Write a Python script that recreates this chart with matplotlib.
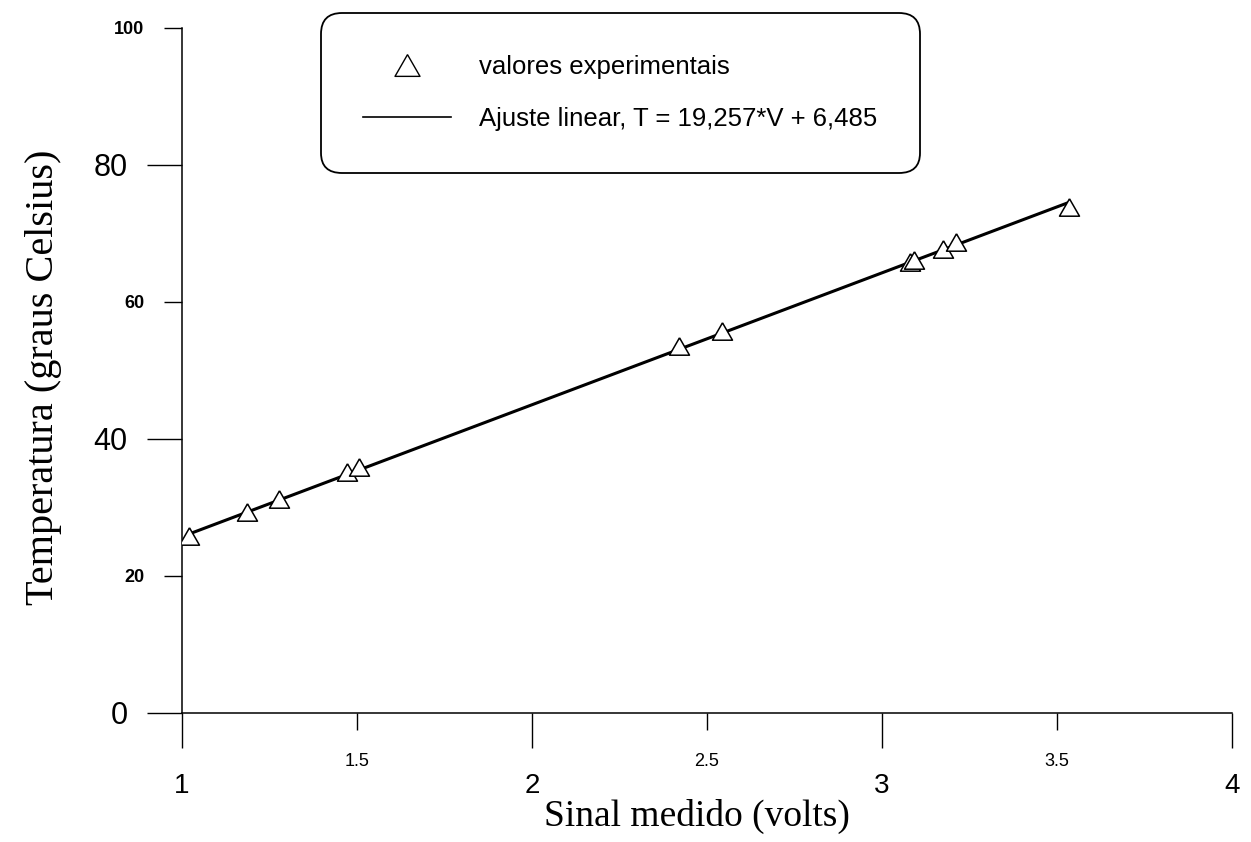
import matplotlib
matplotlib.use("Agg")
import matplotlib.pyplot as plt
from matplotlib.lines import Line2D
import numpy as np

# measured signal (volts) and temperature (graus Celsius)
sinal = [1.02, 1.185, 1.278, 1.47, 1.506, 2.42, 2.542, 3.08, 3.09, 3.175, 3.211, 3.534]
temperatura = [25.8, 29.3, 31.2, 35.2, 35.9, 53.6, 55.7, 65.9, 66.2, 67.7, 68.7, 73.8]

# linear fit given in the legend: T = a*V + b
fit_a = 19.257
fit_b = 6.485

x_major = [1, 2, 3, 4]
x_minor = [1.5, 2.5, 3.5]
y_major = [0, 40, 80]
y_minor = [20, 60, 100]

serif = ["Liberation Serif", "DejaVu Serif"]
sans = ["Liberation Sans", "DejaVu Sans"]

# open triangle, roughly equilateral, centred on its bounding box
tri = [(0, 1), (-1.15, -1), (1.15, -1), (0, 1)]

fig = plt.figure(figsize=(12.51, 8.42), dpi=100)
ax = fig.add_axes([182 / 1251, 1 - 713 / 842, 1050 / 1251, 685 / 842])

v_fit = np.array([min(sinal), max(sinal)])
ax.plot(v_fit, fit_a * v_fit + fit_b, color="black", lw=2.2, zorder=2)
ax.plot(sinal, temperatura, ls="none", marker=tri, ms=14.4,
        mfc="white", mec="black", mew=1.1, zorder=3)

ax.set_xlim(1, 4)
ax.set_ylim(0, 100)
for s in ["top", "right"]:
    ax.spines[s].set_visible(False)
for s in ["left", "bottom"]:
    ax.spines[s].set_linewidth(1.1)

ax.set_xticks(x_major)
ax.set_xticks(x_minor, minor=True)
ax.set_xticklabels([str(v) for v in x_major], fontfamily=sans, fontsize=20)
ax.set_xticklabels([str(v) for v in x_minor], minor=True, fontfamily=sans, fontsize=13)
ax.set_yticks(y_major)
ax.set_yticks(y_minor, minor=True)
ax.set_yticklabels([str(v) for v in y_major], fontfamily=sans, fontsize=22)
ax.set_yticklabels([str(v) for v in y_minor], minor=True, fontfamily=sans,
                   fontsize=13, fontweight="bold")

ax.tick_params(axis="x", which="major", direction="out", length=25, width=1.0, pad=18)
ax.tick_params(axis="x", which="minor", direction="out", length=12, width=1.0, pad=17)
ax.tick_params(axis="y", which="major", direction="out", length=25, width=1.0, pad=14)
ax.tick_params(axis="y", which="minor", direction="out", length=13, width=1.0, pad=14)

ax.set_xlabel("Sinal medido (volts)", fontfamily=serif, fontsize=27)
ax.xaxis.set_label_coords(0.49, -0.125)
ax.set_ylabel("Temperatura (graus Celsius)", fontfamily=serif, fontsize=29)
ax.yaxis.set_label_coords(-0.114, 0.49)

handles = [
    Line2D([], [], ls="none", marker=tri, ms=18, mfc="white", mec="black", mew=1.0),
    Line2D([], [], color="black", lw=1.2),
]
labels = ["valores experimentais", "Ajuste linear, T = 19,257*V + 6,485"]
leg = ax.legend(handles, labels, loc="upper left",
                bbox_to_anchor=(321 / 1251, 1 - 13 / 842),
                bbox_transform=fig.transFigure, borderaxespad=0,
                prop={"family": sans, "size": 18.5}, borderpad=1.65,
                handlelength=3.4, handletextpad=1.1, labelspacing=1.07,
                frameon=True, fancybox=True, framealpha=1)
frame = leg.get_frame()
frame.set_edgecolor("black")
frame.set_linewidth(1.3)
frame.set_boxstyle("round", pad=0, rounding_size=0.8)

fig.savefig("out.png", dpi=100)
